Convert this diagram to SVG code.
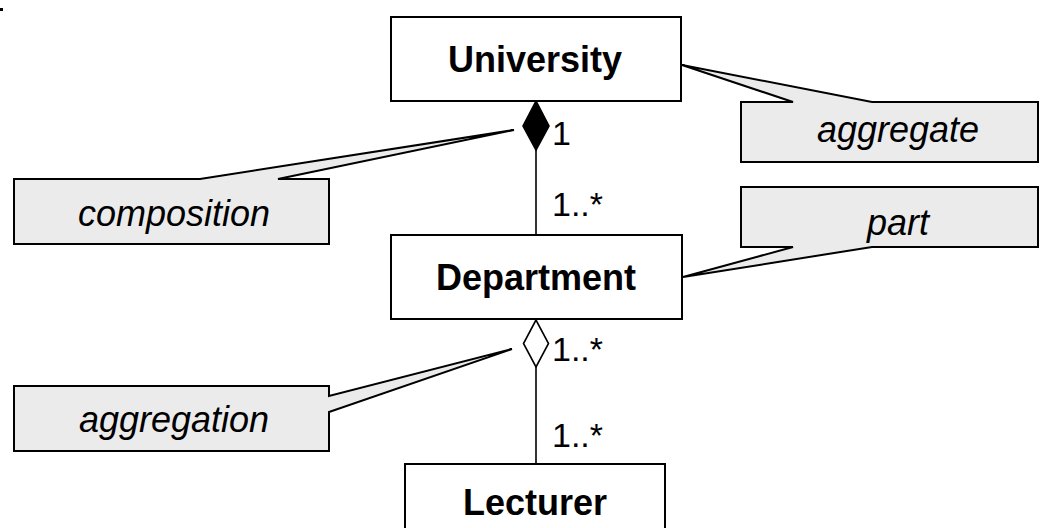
<svg xmlns="http://www.w3.org/2000/svg" width="1041" height="528" viewBox="0 0 1041 528">
  <style>
    .cls { fill: #ffffff; stroke: #000000; stroke-width: 2; }
    .cls-name { font-family: "Liberation Sans", Arial, sans-serif; font-weight: bold; font-size: 36px; text-anchor: middle; fill: #000000; }
    .note { fill: #ebebeb; stroke: #000000; stroke-width: 2; stroke-linejoin: miter; }
    .note-text { font-family: "Liberation Sans", Arial, sans-serif; font-style: italic; font-size: 36px; text-anchor: middle; fill: #000000; }
    .link { fill: none; stroke: #000000; stroke-width: 1.6; }
    .mult { font-family: "Liberation Sans", Arial, sans-serif; font-size: 34px; fill: #000000; }
  </style>

  <rect x="0" y="8" width="3" height="3" fill="#000000"/>

  <!-- associations -->
  <g id="connectors">
    <line class="link" x1="536" y1="150" x2="536" y2="235"/>
    <polygon points="536,101 523,126 536,150 549,126" fill="#000000" stroke="#000000" stroke-width="1.6"/>
    <line class="link" x1="536" y1="367" x2="536" y2="464"/>
    <polygon points="536,320 523.5,343.5 536,367 548.5,343.5" fill="#ffffff" stroke="#000000" stroke-width="1.6"/>
    <text class="mult" x="552" y="145">1</text>
    <text class="mult" x="552" y="216">1..*</text>
    <text class="mult" x="552" y="361">1..*</text>
    <text class="mult" x="552" y="447">1..*</text>
  </g>

  <g id="university">
    <rect class="cls" x="391" y="17" width="290" height="84"/>
    <text class="cls-name" x="535" y="72">University</text>
  </g>

  <g id="department">
    <rect class="cls" x="391" y="235" width="291" height="84"/>
    <text class="cls-name" x="536" y="290">Department</text>
  </g>

  <g id="lecturer">
    <rect class="cls" x="405" y="464" width="260" height="80"/>
    <text class="cls-name" x="535" y="515">Lecturer</text>
  </g>

  <g id="note-aggregate">
    <path class="note" d="M741,102 L793,102 L682,65 L872,102 L1038,102 L1038,162 L741,162 Z"/>
    <text class="note-text" x="898" y="142">aggregate</text>
  </g>

  <g id="note-part">
    <path class="note" d="M741,187 L1038,187 L1038,247 L872,247 L683,277 L793,247 L741,247 Z"/>
    <text class="note-text" x="898" y="235">part</text>
  </g>

  <g id="note-composition">
    <path class="note" d="M14,179 L200,179 L514,130 L278,179 L329,179 L329,244 L14,244 Z"/>
    <text class="note-text" x="174" y="226">composition</text>
  </g>

  <g id="note-aggregation">
    <path class="note" d="M14,386 L329,386 L329,396 L512,349 L329,412 L329,451 L14,451 Z"/>
    <text class="note-text" x="174" y="432">aggregation</text>
  </g>
</svg>
